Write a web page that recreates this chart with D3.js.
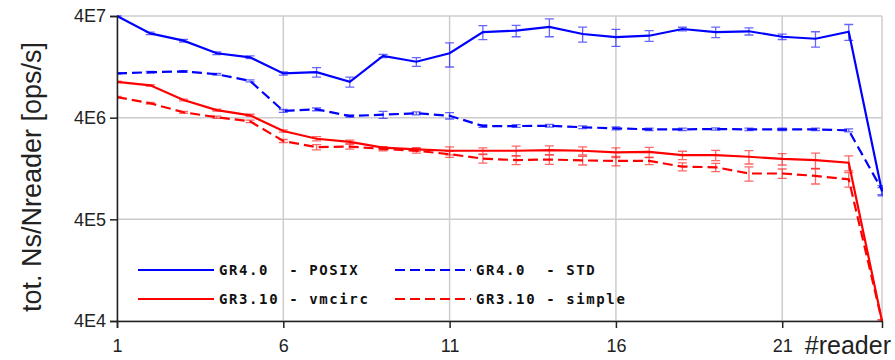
<!DOCTYPE html>
<html>
<head>
<meta charset="utf-8">
<script src="https://cdn.jsdelivr.net/npm/d3@7"></script>
<style>
  body { margin: 0; background: #fff; }
  svg { display: block; }
  .tick text { font-family: 'Liberation Sans', Arial, sans-serif; font-size: 18px; fill: #222; }
  .legend text { font-family: 'DejaVu Sans Mono', monospace; font-weight: bold; font-size: 14px; letter-spacing: 1.6px; white-space: pre; }
</style>
</head>
<body>
<div id="chart"></div>
<script>
// Data
const readers = [1, 2, 3, 4, 5, 6, 7, 8, 9, 10, 11, 12, 13, 14, 15, 16, 17, 18, 19, 20, 21, 22, 23, 24];

const posixVals = [4.0e7, 2.70e7, 2.29e7, 1.72e7, 1.57e7, 1.09e7, 1.12e7, 9.0e6, 1.62e7, 1.42e7, 1.72e7, 2.78e7,
  2.87e7, 3.12e7, 2.66e7, 2.48e7, 2.56e7, 2.98e7, 2.78e7, 2.83e7, 2.50e7, 2.39e7, 2.80e7, 7.5e5];
const posixErr = [8e5, 8e5, 7e5, 5e5, 5e5, 4e5, 1.2e6, 1.0e6, 6e5, 1.4e6, 4.6e6, 4.4e6,
  3.7e6, 6.2e6, 4.5e6, 4.7e6, 3.1e6, 1.2e6, 3.3e6, 2.3e6, 1.5e6, 4.1e6, 5.0e6, 7e4];

const stdVals = [1.09e7, 1.12e7, 1.14e7, 1.07e7, 9.2e6, 4.66e6, 4.83e6, 4.15e6, 4.28e6, 4.42e6, 4.18e6, 3.31e6,
  3.31e6, 3.33e6, 3.22e6, 3.14e6, 3.07e6, 3.07e6, 3.09e6, 3.07e6, 3.07e6, 3.07e6, 3.0e6, 7.8e5];
const stdErr = [2e5, 2e5, 2e5, 2e5, 2e5, 1.5e5, 1.5e5, 1e5, 3.4e5, 1.5e5, 3e5, 1e5,
  1e5, 1e5, 1e5, 1e5, 8e4, 8e4, 8e4, 8e4, 8e4, 8e4, 1e5, 8e4];

const vmcircVals = [8.98e6, 8.32e6, 5.97e6, 4.75e6, 4.22e6, 2.96e6, 2.48e6, 2.31e6, 2.03e6, 1.95e6, 1.89e6, 1.89e6,
  1.89e6, 1.92e6, 1.89e6, 1.82e6, 1.84e6, 1.71e6, 1.71e6, 1.65e6, 1.57e6, 1.53e6, 1.44e6, 4.0e4];
const vmcircErr = [1.5e5, 1.5e5, 1.2e5, 1e5, 1e5, 8e4, 1.2e5, 1e5, 5e4, 8e4, 1.7e5, 1.3e5,
  2.1e5, 1.9e5, 1.7e5, 2e5, 2e5, 1.6e5, 2e5, 2.5e5, 2e5, 2.6e5, 2.4e5, 1e3];

const simpleVals = [6.38e6, 5.54e6, 4.52e6, 4.04e6, 3.68e6, 2.36e6, 2.05e6, 2.08e6, 1.97e6, 1.89e6, 1.75e6, 1.58e6,
  1.53e6, 1.55e6, 1.52e6, 1.50e6, 1.50e6, 1.32e6, 1.30e6, 1.13e6, 1.13e6, 1.07e6, 0.99e6, 4.0e4];
const simpleErr = [1e5, 1e5, 1e5, 1e5, 1e5, 8e4, 1.2e5, 1.2e5, 8e4, 1e5, 1.2e5, 1.5e5,
  1.5e5, 1.6e5, 1.5e5, 1.6e5, 1.2e5, 1.2e5, 1.2e5, 1.8e5, 1.2e5, 1.8e5, 1.6e5, 1e3];

const seriesNames = ['GR4.0  - POSIX', 'GR4.0  - STD', 'GR3.10 - vmcirc', 'GR3.10 - simple'];

const xTicks = [1, 6, 11, 16, 21];
const yTicks = [4e4, 4e5, 4e6, 4e7];
const yTickLabels = ['4E4', '4E5', '4E6', '4E7'];

function buildChart() {
  const width = 895;
  const height = 360;
  const margin = { top: 16, right: 13, bottom: 39, left: 117 };

  const series = [
    { name: seriesNames[0], vals: posixVals, err: posixErr, color: '#0000ff', dash: null },
    { name: seriesNames[1], vals: stdVals, err: stdErr, color: '#0000ff', dash: '10,5' },
    { name: seriesNames[2], vals: vmcircVals, err: vmcircErr, color: '#ff0000', dash: null },
    { name: seriesNames[3], vals: simpleVals, err: simpleErr, color: '#ff0000', dash: '10,5' }
  ];

  const svg = d3.select('#chart').append('svg')
    .attr('width', width)
    .attr('height', height);

  // Scales
  const xScale = d3.scaleLinear().domain([1, 24]).range([margin.left, width - margin.right]);
  const yScale = d3.scaleLog().domain([4e4, 4e7]).range([height - margin.bottom, margin.top]);

  // Clip
  svg.append('clipPath').attr('id', 'clip')
    .append('rect')
    .attr('x', margin.left)
    .attr('y', margin.top - 1)
    .attr('width', width - margin.left - margin.right + 1)
    .attr('height', height - margin.top - margin.bottom + 2);

  // Grid
  const grid = svg.append('g').attr('stroke', '#cccccc').attr('stroke-width', 1.5);
  grid.selectAll('.gx')
    .data(xTicks.concat([24]))
    .enter()
    .append('line')
    .attr('x1', (d) => xScale(d))
    .attr('x2', (d) => xScale(d))
    .attr('y1', margin.top)
    .attr('y2', height - margin.bottom);
  grid.selectAll('.gy')
    .data(yTicks)
    .enter()
    .append('line')
    .attr('x1', margin.left)
    .attr('x2', width - margin.right)
    .attr('y1', (d) => yScale(d))
    .attr('y2', (d) => yScale(d));

  // Error bars and lines
  const plot = svg.append('g').attr('clip-path', 'url(#clip)');

  series.forEach((s) => {
    const pts = readers.map((r, i) => ({ x: r, y: s.vals[i], e: s.err[i] }));

    const eb = plot.append('g')
      .attr('stroke', s.color)
      .attr('stroke-opacity', 0.6)
      .attr('stroke-width', 1.3);
    eb.selectAll('.bar')
      .data(pts)
      .enter()
      .append('path')
      .attr('fill', 'none')
      .attr('d', (d) => {
        const x = xScale(d.x);
        const y1 = yScale(Math.max(d.y - d.e, 1e3));
        const y2 = yScale(d.y + d.e);
        return `M${x},${y1}V${y2}M${x - 4.5},${y1}H${x + 4.5}M${x - 4.5},${y2}H${x + 4.5}`;
      });

    const line = d3.line().x((d) => xScale(d.x)).y((d) => yScale(d.y));
    plot.append('path')
      .datum(pts)
      .attr('fill', 'none')
      .attr('stroke', s.color)
      .attr('stroke-width', 2.2)
      .attr('stroke-dasharray', s.dash)
      .attr('d', line);
  });

  // X axis
  const xAxis = d3.axisBottom(xScale).tickValues(xTicks).tickSize(7).tickPadding(11).tickFormat(d3.format('d'));
  svg.append('g')
    .attr('transform', `translate(0, ${height - margin.bottom})`)
    .call(xAxis)
    .call((g) => g.select('.domain').attr('stroke', '#222').attr('stroke-width', 1.5))
    .call((g) => g.selectAll('.tick line').attr('stroke', '#222').attr('stroke-width', 1.5));

  // Y axis
  const yAxis = d3.axisLeft(yScale).tickValues(yTicks).tickSize(7).tickPadding(4)
    .tickFormat((d, i) => yTickLabels[i]);
  svg.append('g')
    .attr('transform', `translate(${margin.left}, 0)`)
    .call(yAxis)
    .call((g) => g.select('.domain').attr('stroke', '#222').attr('stroke-width', 1.5))
    .call((g) => g.selectAll('.tick line').attr('stroke', '#222').attr('stroke-width', 1.5));

  // Axis titles
  svg.append('text')
    .attr('x', 891)
    .attr('y', 354)
    .attr('text-anchor', 'end')
    .attr('font-family', 'Liberation Sans, Arial, sans-serif')
    .attr('font-size', 25)
    .attr('fill', '#222')
    .text('#reader');

  svg.append('text')
    .attr('transform', 'translate(41, 177) rotate(-90)')
    .attr('text-anchor', 'middle')
    .attr('font-family', 'Liberation Sans, Arial, sans-serif')
    .attr('font-size', 27)
    .attr('fill', '#222')
    .text('tot. Ns/Nreader [ops/s]');

  // Legend
  const legendPos = [
    { x: 138, y: 270 },
    { x: 395, y: 270 },
    { x: 138, y: 299 },
    { x: 395, y: 299 }
  ];
  const legend = svg.append('g').attr('class', 'legend');
  series.forEach((s, i) => {
    const p = legendPos[i];
    legend.append('line')
      .attr('x1', p.x)
      .attr('x2', p.x + 76)
      .attr('y1', p.y)
      .attr('y2', p.y)
      .attr('stroke', s.color)
      .attr('stroke-width', 2.2)
      .attr('stroke-dasharray', s.dash);
    legend.append('text')
      .attr('x', p.x + 81)
      .attr('y', p.y + 5)
      .attr('fill', '#111')
      .text(s.name);
  });
}

buildChart();
</script>
</body>
</html>
